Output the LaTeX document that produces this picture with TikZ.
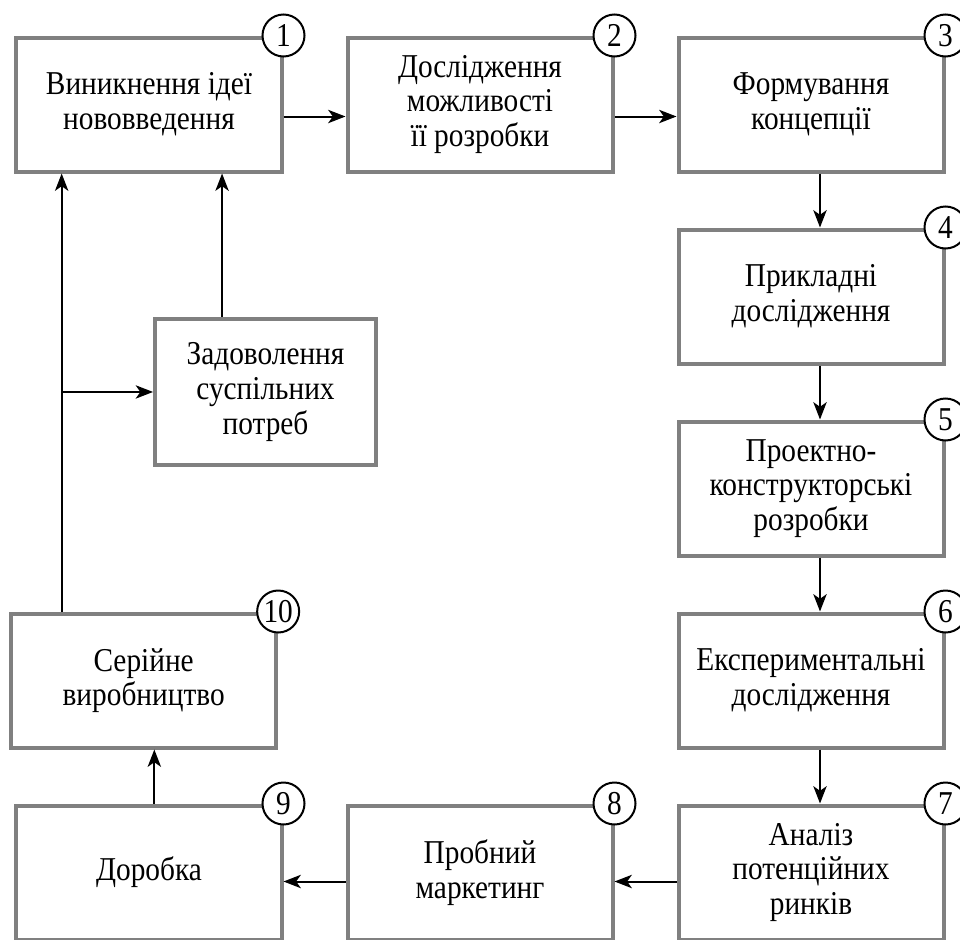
\documentclass[tikz,border=0pt]{standalone}
\usepackage{fontspec}
\setmainfont{Liberation Serif}[FakeStretch=0.88]
\usetikzlibrary{positioning, arrows.meta}

\tikzset{
  block/.style={draw=gray, line width=3pt, fill=white, align=center,
    minimum width=198.75pt, minimum height=100.5pt, inner sep=2pt,
    font=\fontsize{25}{26}\selectfont},
  num/.style={circle, draw=black, line width=1.5pt, fill=white,
    minimum size=31.5pt, inner sep=0pt, font=\fontsize{25}{26}\selectfont},
  flow/.style={line width=1.5pt, -{Stealth[length=13pt, width=10pt, inset=3.5pt]}}
}

\begin{document}
\begin{tikzpicture}[node distance = 144pt and 248.25pt, on grid]
			\useasboundingbox (-111.75pt,78.375pt) rectangle (608.25pt,-625.875pt);

			\node[block] (1) {Виникнення ідеї\\нововведення};
			\node[block, right=of 1] (2) {Дослідження\\можливості\\її розробки};
			\node[block, right=of 2] (3) {Формування\\концепції};
			\node[block, below=of 3] (4) {Прикладні\\дослідження};
			\node[block, below=of 4] (5) {Проектно-\\конструкторські\\розробки};
			\node[block, below=of 5] (6) {Експериментальні\\дослідження};
			\node[block, below=of 6] (7) {Аналіз\\потенційних\\ринків};
			\node[block, left=of 7] (8) {Пробний\\маркетинг};
			\node[block, left=of 8] (9) {Доробка};
			\node[block, above=of 9, xshift=-4pt] (10) {Серійне\\виробництво};
			\node[block, below right=215.6pt and 87.4pt of 1, minimum width=165.75pt, minimum height=109.5pt] (s) {Задоволення\\суспільних\\потреб};

			\node[num] (n1) at (1.north east) {1};
			\node[num] (n2) at (2.north east) {2};
			\node[num] (n3) at (3.north east) {3};
			\node[num] (n4) at (4.north east) {4};
			\node[num] (n5) at (5.north east) {5};
			\node[num] (n6) at (6.north east) {6};
			\node[num] (n7) at (7.north east) {7};
			\node[num] (n8) at (8.north east) {8};
			\node[num] (n9) at (9.north east) {9};
			\node[num] (n10) at (10.north east) {10};

			\coordinate (f) at ([xshift=-61.5pt]10.north);
			\coordinate (g) at ([xshift=-32.6pt]s.north);

			\draw[flow] ([yshift=-9pt]1.east) -- ([yshift=-9pt]2.west);
			\draw[flow] ([yshift=-9pt]2.east) -- ([yshift=-9pt]3.west);
			\draw[flow] ([xshift=6.75pt]3.south) -- ([xshift=6.75pt]4.north);
			\draw[flow] ([xshift=6.75pt]4.south) -- ([xshift=6.75pt]5.north);
			\draw[flow] ([xshift=6.75pt]5.south) -- ([xshift=6.75pt]6.north);
			\draw[flow] ([xshift=6.75pt]6.south) -- ([xshift=6.75pt]7.north);
			\draw[flow] ([yshift=-6.75pt]7.west) -- ([yshift=-6.75pt]8.east);
			\draw[flow] ([yshift=-6.75pt]8.west) -- ([yshift=-6.75pt]9.east);
			\draw[flow] ([xshift=4pt]9.north) -- ([xshift=4pt]9.north |- 10.south);
			\draw[flow] (f) -- (f |- 1.south);
			\draw[flow] (f |- s.west) -- (s.west);
			\draw[flow] (g) -- (g |- 1.south);

		\end{tikzpicture}
\end{document}
